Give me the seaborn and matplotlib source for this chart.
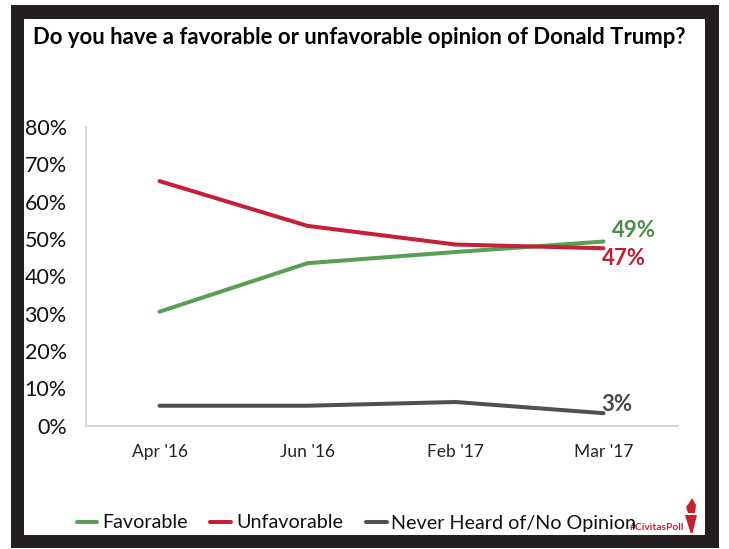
import matplotlib
matplotlib.use("Agg")
import matplotlib.pyplot as plt
from matplotlib.patches import Rectangle, Polygon
import seaborn as sns
import pandas as pd

periods = ["Apr '16", "Jun '16", "Feb '17", "Mar '17"]
favorable = [30.5, 43.5, 46.5, 49.3]
unfavorable = [65.5, 53.5, 48.5, 47.5]
no_opinion = [5.3, 5.3, 6.3, 3.3]
series_names = ["Favorable", "Unfavorable", "Never Heard of/No Opinion"]
colors = ["#5B9F55", "#C4203A", "#505050"]
end_labels = ["49%", "47%", "3%"]
label_colors = ["#4E8C48", "#BE1E36", "#4A4A4A"]
y_ticks = [0, 10, 20, 30, 40, 50, 60, 70, 80]
title = "Do you have a favorable or unfavorable opinion of Donald Trump?"
hashtag = "#CivitasPoll"

sns.set_theme(style="white")
FONT = ["Lato", "DejaVu Sans"]
plt.rcParams["font.family"] = FONT

W, H = 729, 549
fig = plt.figure(figsize=(W / 100, H / 100), dpi=100, facecolor="white")

def fx(x): return x / W
def fy(y): return 1 - y / H

frame = "#231F20"
for x0, y0, x1, y1 in [(11, 5, 719, 18.5), (11, 535, 719, 548), (11, 5, 24, 548), (705, 5, 719, 548)]:
    fig.add_artist(Rectangle((fx(x0), fy(y1)), (x1 - x0) / W, (y1 - y0) / H,
                             transform=fig.transFigure, fc=frame, ec="none"))

ax = fig.add_axes([fx(85.5), fy(425.5), 592 / W, (425.5 - 127) / H], facecolor="none")
df = pd.DataFrame({
    "period": periods * 3,
    "value": favorable + unfavorable + no_opinion,
    "series": [n for n in series_names for _ in periods],
})
sns.lineplot(data=df, x="period", y="value", hue="series", hue_order=series_names,
             palette=colors, sort=False, errorbar=None, linewidth=2.9, ax=ax,
             solid_capstyle="round", legend=False)
ax.set_xlim(-0.5, 3.5)
ax.set_ylim(0, 80)
ax.set_yticks(y_ticks)
ax.set_yticklabels([f"{v}%" for v in y_ticks], fontsize=15.5, color="#111111")
ax.set_xticks(range(len(periods)))
ax.set_xticklabels(periods, fontsize=12.5, color="#222222")
ax.tick_params(axis="x", length=0, pad=13)
ax.tick_params(axis="y", length=0, pad=13.5)
ax.set_xlabel("")
ax.set_ylabel("")
sns.despine(ax=ax, top=True, right=True)
for side in ("left", "bottom"):
    ax.spines[side].set_color("#D0D0D0")
    ax.spines[side].set_linewidth(1.2)

offsets = [(8, 11), (-2, -10), (-2, 9)]
for vals, lab, col, (dx, dy) in zip([favorable, unfavorable, no_opinion], end_labels, label_colors, offsets):
    ax.annotate(lab, (3, vals[-1]), xytext=(dx, dy), textcoords="offset pixels",
                fontsize=16, fontweight="bold", color=col, ha="left", va="center")

fig.text(fx(33), fy(37), title, fontsize=15.9, fontweight="bold", color="#000000", ha="left", va="center")

handles = ax.get_lines()[:3]
leg = fig.legend(handles, series_names, loc="center", bbox_to_anchor=(fx(356.5), fy(523)),
                 ncol=3, frameon=False, fontsize=14.2, handlelength=1.05, handletextpad=0.25,
                 columnspacing=1.15, labelcolor="#111111")

red = "#C8202F"
fig.text(fx(657), fy(528), hashtag, fontsize=7.4, fontweight="bold", color=red, ha="center", va="center")
fig.add_artist(Polygon([[fx(685), fy(515)], [fx(697), fy(515)], [fx(692.5), fy(533)], [fx(690.5), fy(533)]],
                       transform=fig.transFigure, fc=red, ec="none"))
fig.add_artist(Polygon([[fx(692), fy(498)], [fx(696), fy(505)], [fx(695), fy(513)], [fx(688), fy(513)],
                        [fx(686), fy(507)], [fx(689), fy(503)]],
                       transform=fig.transFigure, fc=red, ec="none"))
fig.savefig("out.png", dpi=100, facecolor="white")
